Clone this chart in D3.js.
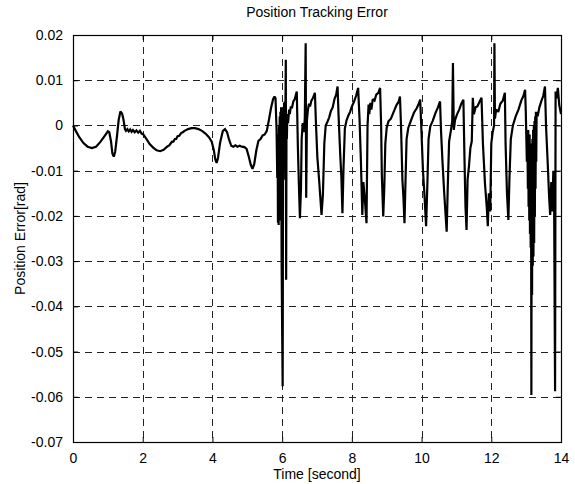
<!DOCTYPE html>
<html>
<head>
<meta charset="utf-8">
<script src="https://cdn.jsdelivr.net/npm/d3@7"></script>
<style>
  html, body { margin: 0; padding: 0; background: #fff; }
  svg { display: block; font-family: Arial, "Liberation Sans", sans-serif; }
</style>
</head>
<body>
<svg id="chart" width="575" height="484"></svg>
<script>
// ---- data ----
const chartTitle = "Position Tracking Error";
const xLabel = "Time [second]";
const yLabel = "Position Error[rad]";
const xTicks = [0, 2, 4, 6, 8, 10, 12, 14];
const yTicks = [0.02, 0.01, 0, -0.01, -0.02, -0.03, -0.04, -0.05, -0.06, -0.07];
const yTickLabels = ["0.02", "0.01", "0", "-0.01", "-0.02", "-0.03", "-0.04", "-0.05", "-0.06", "-0.07"];

const timeS = [
  0, 0.08, 0.18, 0.3, 0.42, 0.54, 0.66, 0.78, 0.9, 1.0, 1.04, 1.09, 1.13, 1.17, 1.21, 1.26, 1.31, 1.36, 1.41, 1.45,
  1.49, 1.52, 1.56, 1.6, 1.64, 1.68, 1.72, 1.77, 1.82, 1.87, 1.92, 1.97, 2.02, 2.1, 2.2, 2.3, 2.4, 2.5, 2.6, 2.7,
  2.76, 2.8, 2.84, 2.88, 2.92, 2.96, 3.0, 3.05, 3.1, 3.15, 3.2, 3.3, 3.4, 3.5, 3.6, 3.7, 3.8, 3.9, 3.98, 4.04,
  4.08, 4.12, 4.16, 4.22, 4.3, 4.36, 4.42, 4.48, 4.54, 4.6, 4.66, 4.72, 4.78, 4.84, 4.92, 4.98, 5.04, 5.1, 5.15, 5.2,
  5.26, 5.32, 5.38, 5.44, 5.5, 5.56, 5.62, 5.68, 5.74, 5.78, 5.81,
  5.84, 5.86, 5.87, 5.88, 5.89, 5.9, 5.91, 5.92, 5.93, 5.94, 5.95, 5.96, 5.97, 5.985, 6.0, 6.015, 6.025, 6.035, 6.045, 6.055,
  6.065, 6.075, 6.085, 6.095, 6.105, 6.115, 6.125, 6.135,
  6.15, 6.17, 6.2, 6.22, 6.25, 6.28, 6.32, 6.36,
  6.42, 6.45, 6.48, 6.51, 6.54, 6.56, 6.59, 6.62, 6.65, 6.675, 6.69, 6.71, 6.74, 6.77, 6.8, 6.84, 6.88, 6.94, 6.97, 7.01,
  7.06, 7.09, 7.13, 7.17, 7.21, 7.25, 7.3, 7.35, 7.4, 7.45, 7.5, 7.55, 7.59, 7.62, 7.67, 7.7, 7.73, 7.76, 7.8, 7.85,
  7.9, 7.95, 8.0, 8.06, 8.12, 8.18, 8.22, 8.26, 8.3, 8.33, 8.37, 8.42, 8.45, 8.48, 8.5, 8.53, 8.56, 8.6, 8.65, 8.7,
  8.76, 8.81, 8.84, 8.86, 8.9, 8.93, 8.96, 9.0, 9.05, 9.12, 9.2, 9.28, 9.34, 9.38, 9.41, 9.45, 9.48, 9.51, 9.54, 9.57,
  9.62, 9.7, 9.78, 9.86, 9.92, 9.96, 9.99, 10.04, 10.08, 10.13, 10.17, 10.2, 10.25, 10.32, 10.4, 10.47, 10.53, 10.56, 10.6, 10.65,
  10.72, 10.75, 10.79, 10.84, 10.88, 10.9, 10.925, 10.96, 11.02, 11.08, 11.14, 11.2, 11.23, 11.26, 11.29, 11.32, 11.36, 11.4, 11.44, 11.47,
  11.5, 11.55, 11.6, 11.66, 11.72, 11.76, 11.82, 11.87, 11.9, 11.93, 11.97, 12.0, 12.04, 12.08, 12.09, 12.105, 12.14, 12.2, 12.26, 12.33,
  12.39, 12.41, 12.45, 12.49, 12.52, 12.56, 12.62, 12.7, 12.78, 12.86, 12.92, 12.97,
  12.99, 13.02, 13.035, 13.05, 13.06, 13.07, 13.08, 13.09, 13.1, 13.11, 13.12, 13.13, 13.14, 13.15, 13.16, 13.17, 13.18, 13.19, 13.2, 13.21,
  13.22, 13.23, 13.24, 13.25, 13.26, 13.27, 13.28, 13.29, 13.3, 13.33,
  13.38, 13.44, 13.49, 13.54, 13.57, 13.62, 13.66,
  13.69, 13.72, 13.75, 13.78, 13.8, 13.83, 13.845, 13.87, 13.91, 13.95, 14.0
];
const errorRad = [
  0, -0.0012, -0.0026, -0.0039, -0.0047, -0.005, -0.0047, -0.0037, -0.0024, -0.0013, -0.0015, -0.0035, -0.0062, -0.0069, -0.0058, -0.0025, 0.0012, 0.0031, 0.0026, 0.0012,
  -0.0008, -0.0012, -0.0008, -0.0013, -0.0009, -0.0014, -0.001, -0.0015, -0.0011, -0.0016, -0.0012, -0.0018, -0.002, -0.0029, -0.0041, -0.0049, -0.0055, -0.0057, -0.0054, -0.0047,
  -0.0044, -0.004, -0.0036, -0.0036, -0.003, -0.003, -0.0024, -0.0023, -0.0017, -0.0015, -0.0012, -0.0008, -0.0006, -0.0006, -0.0008, -0.0012, -0.0018, -0.0026, -0.0036, -0.0055,
  -0.0074, -0.0083, -0.0072, -0.0038, -0.0012, -0.0008, -0.0015, -0.0032, -0.0045, -0.0047, -0.0044, -0.0047, -0.0045, -0.0047, -0.0048, -0.0052, -0.0068, -0.0087, -0.0096, -0.0085,
  -0.0055, -0.0034, -0.003, -0.0022, -0.002, -0.0012, 0.0012, 0.0038, 0.0058, 0.0064, 0.006,
  -0.001, -0.0116, -0.002, -0.0215, -0.003, -0.022, 0.0, -0.021, 0.002, -0.02, 0.003, -0.019, 0.004, -0.03, -0.045, -0.0577, -0.01, 0.004, -0.012, 0.005,
  -0.008, 0.0053, -0.004, 0.004, 0.0145, -0.0341, 0.001, -0.003,
  0.0025, 0.0005, 0.0035, 0.0025, 0.0042, 0.0038, 0.0053, 0.0058,
  0.0075, -0.0043, -0.013, -0.0205, -0.014, -0.003, 0.0005, -0.0015, 0.0015, 0.0182, -0.016, 0.001, 0.0035, 0.0048, 0.0042, 0.0055, 0.006, 0.0072, 0.0005, -0.007,
  -0.012, -0.0153, -0.0198, -0.0152, -0.004, 0.0, 0.0008, 0.0018, 0.0032, 0.004, 0.0058, 0.0068, 0.0086, 0.002, -0.007, -0.0116, -0.0194, -0.0095, -0.0006, 0.0012,
  0.0022, 0.003, 0.0042, 0.0052, 0.0065, 0.0083, 0.0015, -0.008, -0.0198, -0.0125, -0.016, -0.0216, 0.0, 0.0046, 0.0025, 0.005, 0.0035, 0.0058, 0.0055, 0.0068,
  0.0072, 0.0083, 0.0, -0.0109, -0.0201, -0.014, -0.004, -0.0005, 0.0009, 0.0015, 0.003, 0.0045, 0.0052, 0.0064, 0.0, -0.012, -0.016, -0.0216, -0.012, -0.003,
  -0.0005, 0.0012, 0.0028, 0.0038, 0.0048, 0.0057, 0.0, -0.01, -0.015, -0.0223, -0.012, -0.003, -0.0002, 0.001, 0.0028, 0.004, 0.0053, -0.0015, -0.008, -0.015,
  -0.0235, -0.014, -0.0035, -0.0012, 0.001, 0.0138, -0.001, 0.0012, 0.0025, 0.0035, 0.0048, 0.0057, -0.007, -0.018, -0.0231, -0.012, -0.009, -0.005, -0.0035, 0.0061,
  0.0025, 0.004, 0.0042, 0.0052, 0.0061, -0.004, -0.013, -0.018, -0.0223, -0.015, -0.019, -0.004, -0.0015, 0.0, 0.0182, 0.0015, 0.0035, 0.003, 0.0048, 0.0055,
  0.0072, -0.004, -0.015, -0.0209, -0.012, -0.003, 0.0, 0.002, 0.0035, 0.0055, 0.0065, 0.0079,
  0.003, -0.008, -0.002, -0.014, -0.001, -0.018, -0.003, -0.021, -0.002, -0.024, -0.005, -0.027, -0.004, -0.0596, -0.006, -0.0375, -0.003, -0.031, -0.001, -0.029,
  0.0, -0.026, 0.001, -0.02, 0.002, -0.014, 0.003, -0.008, 0.003, 0.002,
  0.004, 0.0055, 0.0065, 0.0086, 0.0, -0.0085, -0.016,
  -0.0198, -0.0125, -0.019, -0.01, -0.012, -0.0588, 0.0075, 0.006, 0.0083, 0.0045, 0.0025
];

// ---- layout ----
const W = 575, H = 484;
const plot = { left: 73, right: 561, top: 35, bottom: 442 };

const svg = d3.select("#chart");
const x = d3.scaleLinear().domain([0, 14]).range([plot.left, plot.right]);
const y = d3.scaleLinear().domain([-0.07, 0.02]).range([plot.bottom, plot.top]);

// grid
const grid = svg.append("g").attr("stroke", "#222").attr("stroke-width", 1)
  .attr("stroke-dasharray", "7,5").attr("fill", "none");
xTicks.slice(1, -1).forEach(t => {
  grid.append("line").attr("x1", Math.round(x(t)) + 0.5).attr("x2", Math.round(x(t)) + 0.5)
    .attr("y1", plot.top).attr("y2", plot.bottom);
});
yTicks.slice(1, -1).forEach(v => {
  grid.append("line").attr("y1", Math.round(y(v)) + 0.5).attr("y2", Math.round(y(v)) + 0.5)
    .attr("x1", plot.left).attr("x2", plot.right);
});

// data line
const pts = timeS.map((t, i) => [t, errorRad[i]]);
const line = d3.line().x(d => x(d[0])).y(d => y(d[1]));
svg.append("path").datum(pts)
  .attr("d", line)
  .attr("fill", "none")
  .attr("stroke", "#000")
  .attr("stroke-width", 2.2)
  .attr("stroke-linejoin", "miter")
  .attr("stroke-miterlimit", 2);

// axes (MATLAB-style inside ticks on all sides)
const tickLen = 5;
const axB = svg.append("g").attr("transform", `translate(0,${plot.bottom})`)
  .call(d3.axisBottom(x).tickValues(xTicks).tickSizeInner(-tickLen).tickSizeOuter(0).tickPadding(8).tickFormat(d3.format("d")));
const axT = svg.append("g").attr("transform", `translate(0,${plot.top})`)
  .call(d3.axisTop(x).tickValues(xTicks).tickSizeInner(-tickLen).tickSizeOuter(0).tickFormat(""));
const axL = svg.append("g").attr("transform", `translate(${plot.left},0)`)
  .call(d3.axisLeft(y).tickValues(yTicks).tickSizeInner(-tickLen).tickSizeOuter(0).tickPadding(10)
    .tickFormat((d, i) => yTickLabels[i]));
const axR = svg.append("g").attr("transform", `translate(${plot.right},0)`)
  .call(d3.axisRight(y).tickValues(yTicks).tickSizeInner(-tickLen).tickSizeOuter(0).tickFormat(""));

[axB, axT, axL, axR].forEach(a => {
  a.select(".domain").remove();
  a.selectAll(".tick line").attr("stroke", "#000");
  a.selectAll("text").attr("font-size", 14).attr("fill", "#000")
    .attr("font-family", 'Arial, "Liberation Sans", sans-serif');
});
axB.selectAll("text").attr("dy", "0.95em");

// box
svg.append("rect")
  .attr("x", plot.left + 0.5).attr("y", plot.top + 0.5)
  .attr("width", plot.right - plot.left).attr("height", plot.bottom - plot.top)
  .attr("fill", "none").attr("stroke", "#000").attr("stroke-width", 1.2);

// title & labels
svg.append("text").attr("x", (plot.left + plot.right) / 2).attr("y", 17)
  .attr("text-anchor", "middle").attr("font-size", 14).text(chartTitle);
svg.append("text").attr("x", (plot.left + plot.right) / 2).attr("y", 479)
  .attr("text-anchor", "middle").attr("font-size", 14).text(xLabel);
svg.append("text")
  .attr("transform", `translate(25,${(plot.top + plot.bottom) / 2}) rotate(-90)`)
  .attr("text-anchor", "middle").attr("font-size", 14).text(yLabel);
</script>
</body>
</html>
